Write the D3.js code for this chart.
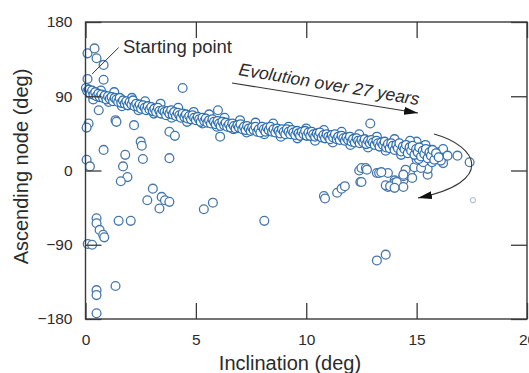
<!DOCTYPE html>
<html>
<head>
<meta charset="utf-8">
<script src="https://cdn.jsdelivr.net/npm/d3@7"></script>
<style>
  body { margin: 0; background: #fff; }
  svg { display: block; font-family: "Liberation Sans", Arial, Helvetica, sans-serif; }
</style>
</head>
<body>
<svg id="chart" width="529" height="373"></svg>
<script>
// Axis ticks
const xTicks = [0, 5, 10, 15, 20];
const yTicks = [180, 90, 0, -90, -180];
const xLabel = "Inclination (deg)";
const yLabel = "Ascending node (deg)";

// Main drift track: [inclination (deg), ascending node (deg)]
const trackPoints = [
  [0.02,100],[0.08,96],[0.15,98],[0.22,93],[0.30,97],[0.36,92],[0.44,95],[0.50,90],[0.58,93],[0.65,89],
  [0.72,92],[0.80,88],[0.88,91],[0.95,86],[1.02,90],[1.10,87],[1.18,89],[1.25,84],[1.32,88],[1.40,86],
  [1.48,83],[1.55,88],[1.62,82],[1.70,85],[1.78,81],[1.85,84],[1.92,79],[2.00,83],[2.08,80],[2.15,85],
  [2.22,78],[2.30,81],[2.38,77],[2.45,80],[2.52,75],[2.60,79],[2.68,76],[2.75,73],[2.82,78],[2.90,74],
  [2.98,77],[3.05,72],[3.12,75],[3.20,71],[3.28,76],[3.35,72],[3.42,69],[3.50,73],[3.58,71],[3.65,67],
  [3.72,72],[3.80,69],[3.88,73],[3.95,68],[4.02,71],[4.10,66],[4.18,70],[4.25,67],[4.32,64],[4.40,69],
  [4.48,65],[4.55,68],[4.62,63],[4.70,66],[4.78,62],[4.85,67],[4.92,64],[5.00,61],[5.08,65],[5.15,62],
  [5.22,59],[5.30,64],[5.38,60],[5.45,63],[5.52,58],[5.60,61],[5.68,57],[5.75,62],[5.82,59],[5.90,56],
  [5.98,60],[6.05,57],[6.12,54],[6.20,59],[6.28,55],[6.35,58],[6.42,53],[6.50,56],[6.58,52],[6.65,57],
  [6.72,54],[6.80,51],[6.88,55],[6.95,52],[7.02,56],[7.10,50],[7.18,53],[7.25,49],[7.32,54],[7.40,51],
  [7.48,48],[7.55,52],[7.62,49],[7.70,53],[7.78,47],[7.85,50],[7.92,46],
  [8.00,53],[8.08,50],[8.15,47],[8.22,52],[8.30,49],[8.38,53],[8.45,47],[8.52,50],[8.60,46],[8.68,51],
  [8.75,48],[8.82,45],[8.90,50],[8.98,47],[9.05,44],[9.12,50],[9.20,47],[9.28,44],[9.35,49],[9.42,46],
  [9.50,43],[9.58,48],[9.65,45],[9.72,42],[9.80,47],[9.88,44],[9.95,48],[10.02,42],[10.10,46],[10.18,42],
  [10.25,47],[10.32,44],[10.40,41],[10.48,45],[10.55,42],[10.62,46],[10.70,40],[10.78,43],[10.85,39],[10.92,44],
  [11.00,41],[11.08,38],[11.15,43],[11.22,40],[11.30,44],[11.38,38],[11.45,41],[11.52,37],[11.60,42],[11.68,39],
  [11.75,36],[11.82,40],[11.90,37],[11.98,41],[12.05,35],[12.12,38],[12.20,34],[12.28,39],[12.35,36],[12.42,33],
  [12.50,37],[12.58,34],[12.65,38],[12.72,32],[12.80,36],[12.88,33],[12.95,37],[13.02,34],[13.10,31],[13.18,36],
  [13.25,33],[13.32,29],[13.40,34],[13.48,31],[13.55,35],[13.62,28],[13.70,32],[13.78,27],[13.85,33],[13.92,30],
  [14.00,25],[14.08,31],[14.15,27],[14.22,33],[14.30,23],[14.38,29],[14.45,26],[14.52,31],[14.60,21],[14.68,28],
  [14.75,24],[14.82,30],[14.90,19],[14.98,26],[15.05,22],[15.12,28],[15.20,17],[15.28,24],[15.35,20],[15.42,26],
  [15.50,15],[15.58,22],[15.65,18],[15.72,25],[15.80,13],[15.88,21],[16.00,16]
];

// Points scattered along the edges of the track
const trackEdgePoints = [
  [0.35,86],[0.70,97],[1.05,83],[1.30,95],[1.65,78],[2.10,88],[2.40,73],[2.70,84],[3.10,69],[3.40,81],
  [3.90,64],[4.20,76],[4.60,59],[4.90,71],[5.30,57],[5.60,68],[5.95,53],[6.30,64],[6.70,50],[7.00,61],
  [7.30,46],[7.70,58],[8.10,44],[8.50,57],[8.85,41],[9.20,53],[9.60,39],[10.00,51],[10.40,36],[10.80,49],
  [11.20,34],[11.60,47],[12.00,31],[12.40,44],[12.80,28],[13.20,41],[13.60,24],[14.00,38],[14.30,19],[14.70,36],
  [15.10,14],[15.40,31],[15.70,10],[16.20,26],[16.40,18]
];

// Objects away from the main track
const strayPoints = [
  [0.09,142],[0.41,148],[0.50,136],[0.82,128],[0.09,111],[0.82,110],
  [4.40,100],[6.00,73],[0.60,73],[1.36,61],[2.20,55],[0.14,57],[0.05,52],[3.80,47],[4.05,42],[6.10,41],
  [2.50,35],[2.55,30],[0.82,25],[1.80,19],[1.70,5],[2.60,14],[3.80,15],[0.05,13],[0.20,5],[1.40,59],
  [1.90,-8],[1.60,-13],[3.05,-22],[2.80,-36],[3.45,-32],[3.60,-36],[3.35,-46],[3.80,-38],
  [0.50,-58],[0.50,-64],[0.64,-72],[0.80,-78],[0.85,-81],[1.50,-61],[2.05,-61],[0.10,-89],[0.30,-90],
  [5.36,-47],[5.77,-39],[8.10,-61],
  [10.80,-31],[10.85,-34],[11.40,-27],[11.60,-22],[11.75,-19],[12.45,-14],[12.40,0],[12.50,3],
  [12.90,57],[12.70,3],[12.75,1],[13.20,-3],[13.70,-3],[14.00,-12],[13.70,-20],
  [13.20,-109],[13.60,-102],
  [0.50,-145],[0.50,-151],[0.50,-173],[1.36,-140],
  [16.85,18],[17.40,10],[16.10,16],[16.20,9],[15.50,-5],[15.50,2],[13.30,-3],[12.50,-14],[13.60,-18],
  [14.00,-15],[14.40,-12],[14.40,-7],[14.70,-2],[14.50,1],[14.90,4],[15.20,3],[15.30,10],[15.00,13],
  [15.60,18],[15.80,22],[16.00,22],[13.80,-19],[14.10,-14],[14.80,-9],[14.40,-20],[14.00,-21],[13.40,-2],[14.40,-5],
  [14.70,33],[15.00,35],[15.40,28],[15.60,25],[15.10,21],[14.40,27],[14.00,33],[15.90,21],[16.10,12]
];

// A small, faint detection at the right of the cluster
const faintPoints = [[17.55,-36]];

const svg = d3.select("#chart");
const x = d3.scaleLinear().domain([0, 20]).range([85.5, 527]);
const y = d3.scaleLinear().domain([-180, 180]).range([319, 22]);
const axisColor = "#3a3a3a";
const textColor = "#2b2b2b";

// Arrowhead marker
const defs = svg.append("defs");
defs.append("marker")
  .attr("id", "head")
  .attr("viewBox", "0 0 14 8")
  .attr("refX", 14).attr("refY", 4)
  .attr("markerWidth", 14).attr("markerHeight", 8)
  .attr("markerUnits", "userSpaceOnUse")
  .attr("orient", "auto")
  .append("path").attr("d", "M0,0 L14,4 L0,8 Z").attr("fill", "#111");

// Data marks
const marks = svg.append("g");
const drawCircles = (cls, data, r, stroke, sw) =>
  marks.selectAll("circle." + cls).data(data).join("circle")
    .attr("class", cls)
    .attr("cx", d => x(d[0])).attr("cy", d => y(d[1])).attr("r", r)
    .attr("fill", "#fff").attr("stroke", stroke).attr("stroke-width", sw);

drawCircles("stray", strayPoints, 4.4, "#4677aa", 1.3);
drawCircles("edge", trackEdgePoints, 4.4, "#3372b0", 1.3);
drawCircles("track", trackPoints, 4.4, "#2f6fae", 1.3);
drawCircles("faint", faintPoints, 2.6, "#9fb3cf", 1);

// Axes with inward ticks
const styleAxis = g => {
  g.select(".domain").remove();
  g.selectAll(".tick line").attr("stroke", axisColor).attr("stroke-width", 1.3);
  g.selectAll(".tick text").attr("fill", textColor).style("font-size", "15.5px")
    .style("font-family", "'Liberation Sans', Arial, sans-serif");
};
const fmt = d => d < 0 ? "\u2212" + Math.abs(d) : String(d);

svg.append("g").attr("transform", "translate(0,319)")
  .call(d3.axisBottom(x).tickValues(xTicks).tickSize(-16).tickPadding(15).tickFormat(fmt))
  .call(styleAxis);
svg.append("g").attr("transform", "translate(85.5,0)")
  .call(d3.axisLeft(y).tickValues(yTicks).tickSize(-16).tickPadding(13).tickFormat(fmt))
  .call(styleAxis);
svg.append("g").attr("transform", "translate(0,22)")
  .call(d3.axisTop(x).tickValues(xTicks).tickSize(-16).tickFormat(""))
  .call(styleAxis);
svg.append("g").attr("transform", "translate(527,0)")
  .call(d3.axisRight(y).tickValues(yTicks).tickSize(-16).tickFormat(""))
  .call(styleAxis);

// Plot frame
svg.append("rect")
  .attr("x", x(0)).attr("y", y(180))
  .attr("width", x(20) - x(0)).attr("height", y(-180) - y(180))
  .attr("fill", "none").attr("stroke", axisColor).attr("stroke-width", 1.4);

// Axis titles
svg.append("text")
  .attr("x", 290).attr("y", 370).attr("text-anchor", "middle")
  .attr("fill", textColor).style("font-size", "20px").text(xLabel);
svg.append("text")
  .attr("transform", "translate(28,166.5) rotate(-90)").attr("text-anchor", "middle")
  .attr("fill", textColor).style("font-size", "20px").text(yLabel);

// "Starting point" callout
svg.append("line")
  .attr("x1", x(0.3)).attr("y1", y(117)).attr("x2", x(1.5)).attr("y2", y(149))
  .attr("stroke", "#333").attr("stroke-width", 1);
svg.append("text")
  .attr("x", 123).attr("y", 52.5)
  .attr("fill", textColor).style("font-size", "18.5px").text("Starting point");

// Drift direction annotation
svg.append("text")
  .attr("transform", "translate(238,75) rotate(9.5)")
  .attr("fill", textColor).style("font-size", "17.5px").style("font-style", "italic")
  .text("Evolution over 27 years");
svg.append("line")
  .attr("x1", 232).attr("y1", 83).attr("x2", 418).attr("y2", 113)
  .attr("stroke", "#333").attr("stroke-width", 1.1)
  .attr("marker-end", "url(#head)");

// Curved arrow showing the turnaround
svg.append("path")
  .attr("d", "M434,134 C478,146 496,182 418,198")
  .attr("fill", "none").attr("stroke", "#333").attr("stroke-width", 1.1)
  .attr("marker-end", "url(#head)");
</script>
</body>
</html>
